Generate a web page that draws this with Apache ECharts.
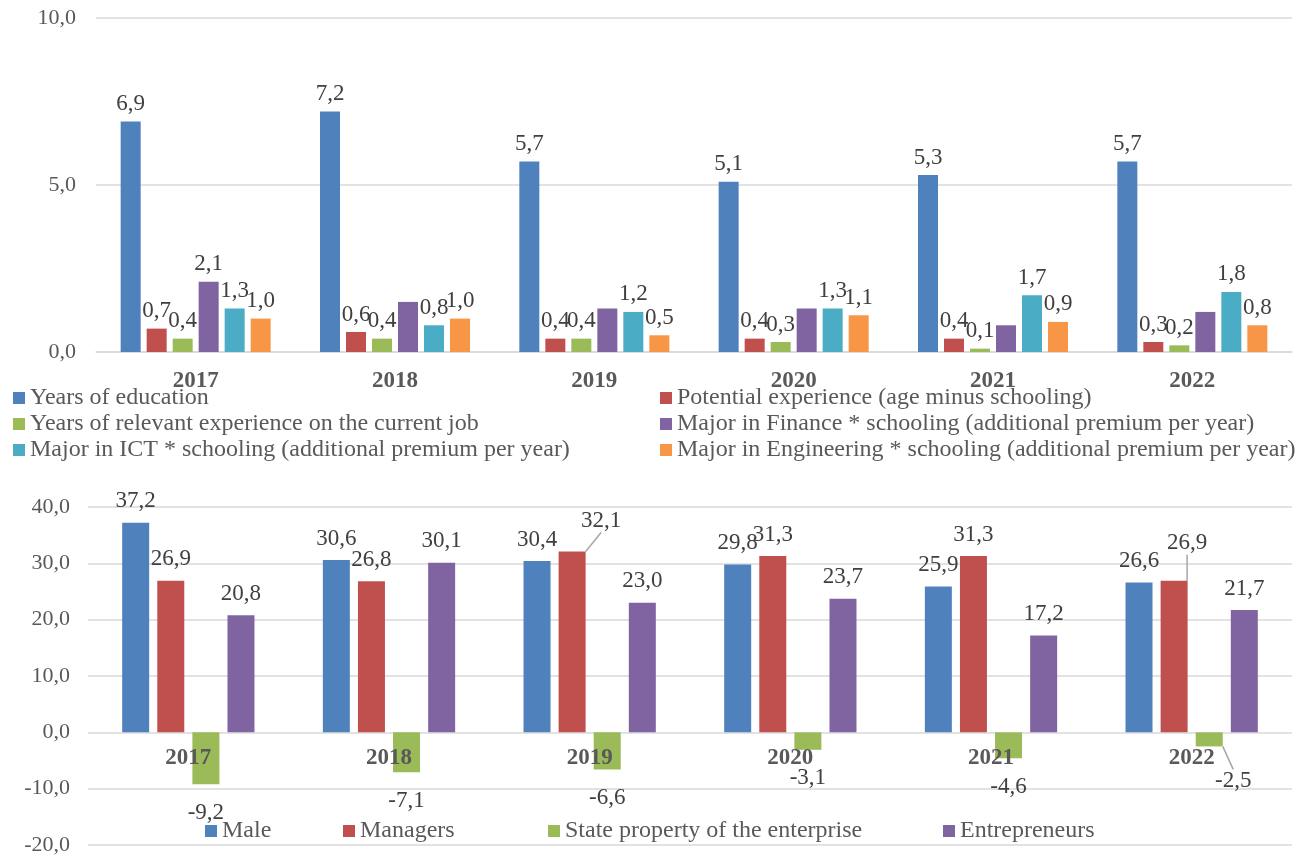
<!DOCTYPE html>
<html>
<head>
<meta charset="utf-8">
<script src="https://cdn.jsdelivr.net/npm/echarts@6/dist/echarts.min.js"></script>
<style>
  html, body { margin: 0; padding: 0; background: #fff; }
  #main { width: 1311px; height: 857px; }
</style>
</head>
<body>
<div id="main"></div>
<script>
// categories
const years = ['2017', '2018', '2019', '2020', '2021', '2022'];

// top chart: returns to education / experience / majors
const educationNames = [
  'Years of education',
  'Potential experience (age minus schooling)',
  'Years of relevant experience on the current job',
  'Major in Finance * schooling (additional premium per year)',
  'Major in ICT * schooling (additional premium per year)',
  'Major in Engineering * schooling (additional premium per year)'
];
const yearsEducation = [6.9, 7.2, 5.7, 5.1, 5.3, 5.7];
const potentialExperience = [0.7, 0.6, 0.4, 0.4, 0.4, 0.3];
const relevantExperience = [0.4, 0.4, 0.4, 0.3, 0.1, 0.2];
const financeMajor = [2.1, 1.5, 1.3, 1.3, 0.8, 1.2];
const ictMajor = [1.3, 0.8, 1.2, 1.3, 1.7, 1.8];
const engineeringMajor = [1.0, 1.0, 0.5, 1.1, 0.9, 0.8];
const financeLabelYears = ['2017']; // only this one is labelled in the original

// bottom chart: premiums by group
const groupNames = ['Male', 'Managers', 'State property of the enterprise', 'Entrepreneurs'];
const male = [37.2, 30.6, 30.4, 29.8, 25.9, 26.6];
const managers = [26.9, 26.8, 32.1, 31.3, 31.3, 26.9];
const stateProperty = [-9.2, -7.1, -6.6, -3.1, -4.6, -2.5];
const entrepreneurs = [20.8, 30.1, 23.0, 23.7, 17.2, 21.7];

// axis ticks
const topAxis = { min: 0, max: 10, interval: 5 };
const bottomAxis = { min: -20, max: 40, interval: 10 };

const colors = ['#4F81BD', '#C0504D', '#9BBB59', '#8064A2', '#4BACC6', '#F79646'];
const FONT = "'Liberation Serif', 'Times New Roman', serif";

const fmt = v => v.toFixed(1).replace('.', ',');

const chart = echarts.init(document.getElementById('main'));

const topValues = [yearsEducation, potentialExperience, relevantExperience, financeMajor, ictMajor, engineeringMajor];
const bottomValues = [male, managers, stateProperty, entrepreneurs];

// labels dragged by hand in the original (series index in bottom chart, year) -> shift
const labelNudges = {
  '1-2019': [29, -9],
  '1-2022': [13, -16],
  '2-2022': [24, 6]
};

const labelStyle = {
  show: true,
  position: 'top',
  distance: 6,
  fontFamily: FONT,
  fontSize: 23,
  color: '#404040',
  formatter: p => fmt(p.value)
};

const topSeries = topValues.map((vals, i) => ({
  name: educationNames[i],
  type: 'bar',
  xAxisIndex: 0,
  yAxisIndex: 0,
  barWidth: 20,
  barGap: '30%',
  itemStyle: { color: colors[i] },
  label: labelStyle,
  data: vals.map((v, j) => {
    if (i === 3 && financeLabelYears.indexOf(years[j]) < 0) {
      return { value: v, label: { show: false } };
    }
    return v;
  })
}));

const bottomSeries = bottomValues.map((vals, i) => ({
  name: groupNames[i],
  type: 'bar',
  xAxisIndex: 1,
  yAxisIndex: 1,
  barWidth: 27,
  barGap: '30%',
  itemStyle: { color: colors[i] },
  label: Object.assign({}, labelStyle, {
    position: i === 2 ? 'bottom' : 'top',
    distance: i === 2 ? 17 : 10
  }),
  labelLine: { show: false, lineStyle: { color: '#a6a6a6', width: 1.5 } },
  labelLayout: p => {
    const n = labelNudges[i + '-' + years[p.dataIndex]];
    return n ? { dx: n[0], dy: n[1] } : {};
  },
  data: vals.map((v, j) => labelNudges[i + '-' + years[j]]
    ? { value: v, labelLine: { show: true } }
    : v)
}));

const axisLabelStyle = { fontFamily: FONT, fontSize: 22, color: '#595959' };
const gridLine = { lineStyle: { color: '#d9d9d9', width: 1.5 } };

const legendBase = {
  icon: 'rect',
  itemWidth: 12,
  itemHeight: 12,
  padding: 0,
  textStyle: { fontFamily: FONT, fontSize: 24, color: '#595959', lineHeight: 24 }
};

const bottomLegendLeft = [205, 343, 548, 943];

chart.setOption({
  backgroundColor: '#fff',
  animation: false,
  color: colors,
  grid: [
    { left: 96, right: 19, top: 18, height: 334, outerBoundsMode: 'none' },
    { left: 88, right: 19, top: 507, height: 338, outerBoundsMode: 'none' }
  ],
  legend: [
    Object.assign({}, legendBase, {
      orient: 'vertical', left: 660, top: 386, itemGap: 2,
      data: [educationNames[1], educationNames[3], educationNames[5]]
    }),
    Object.assign({}, legendBase, {
      orient: 'vertical', left: 13, top: 386, itemGap: 2,
      data: [educationNames[0], educationNames[2], educationNames[4]]
    })
  ].concat(groupNames.map((name, i) => Object.assign({}, legendBase, {
    orient: 'horizontal', left: bottomLegendLeft[i], top: 819,
    data: [name]
  }))),
  xAxis: [
    {
      type: 'category', gridIndex: 0, data: years,
      axisTick: { show: false },
      axisLine: gridLine,
      axisLabel: Object.assign({}, axisLabelStyle, { fontSize: 23, fontWeight: 'bold', margin: 18 })
    },
    {
      // labels sit just under the zero line, drawn over the negative bars
      type: 'category', gridIndex: 1, data: years, z: 10,
      axisTick: { show: false },
      axisLine: { show: false, onZero: false },
      axisLabel: Object.assign({}, axisLabelStyle, { fontSize: 23, fontWeight: 'bold', margin: -98 })
    }
  ],
  yAxis: [
    {
      type: 'value', gridIndex: 0,
      min: topAxis.min, max: topAxis.max, interval: topAxis.interval,
      axisLine: { show: false }, axisTick: { show: false },
      splitLine: gridLine,
      axisLabel: Object.assign({}, axisLabelStyle, { margin: 20, formatter: fmt })
    },
    {
      type: 'value', gridIndex: 1,
      min: bottomAxis.min, max: bottomAxis.max, interval: bottomAxis.interval,
      axisLine: { show: false }, axisTick: { show: false },
      splitLine: gridLine,
      axisLabel: Object.assign({}, axisLabelStyle, { margin: 18, formatter: fmt })
    }
  ],
  series: topSeries.concat(bottomSeries)
});
</script>
</body>
</html>
